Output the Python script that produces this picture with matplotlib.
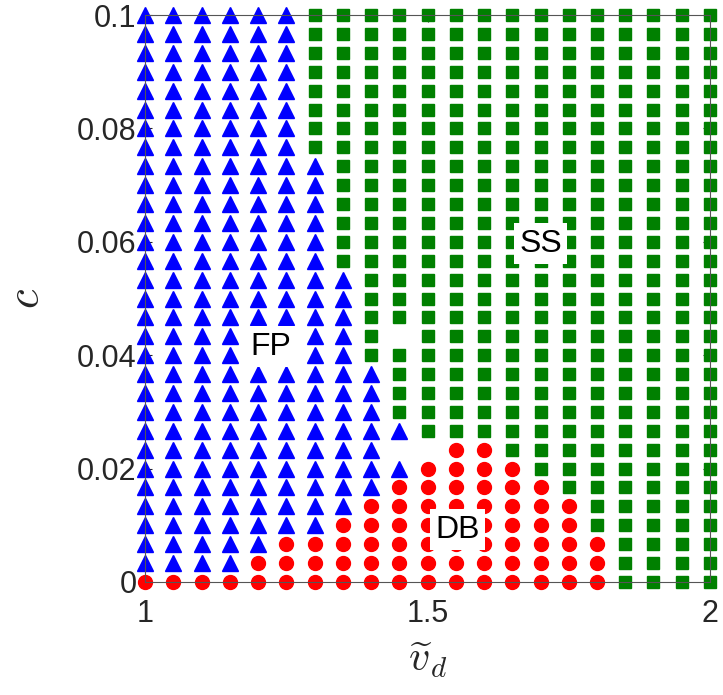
import numpy as np
import matplotlib
matplotlib.use("Agg")
import matplotlib.pyplot as plt

plt.rcParams['font.family'] = ['Liberation Sans', 'DejaVu Sans']
plt.rcParams['mathtext.fontset'] = 'cm'

#grid of the parameter scan
vd = np.linspace(1, 2, 21)
cvals = np.linspace(0, 0.1, 31)

#regime map, top row is c = 0.1, bottom row c = 0
#F = fixed point, S = steady state, D = DB, . = nothing
regimeMap = [
    "FFFFFFSSSSSSSSSSSSSSS",  # 30
    "FFFFFFSSSSSSSSSSSSSSS",
    "FFFFFFSSSSSSSSSSSSSSS",
    "FFFFFFSSSSSSSSSSSSSSS",
    "FFFFFFSSSSSSSSSSSSSSS",
    "FFFFFFSSSSSSSSSSSSSSS",
    "FFFFFFSSSSSSSSSSSSSSS",
    "FFFFFFSSSSSSSSSSSSSSS",  # 23
    "FFFFFFFSSSSSSSSSSSSSS",  # 22
    "FFFFFFFSSSSSSSSSSSSSS",
    "FFFFFFFSSSSSSSSSSSSSS",
    "FFFFFFFSSSSSSSSSSSSSS",
    "FFFFFFFSSSSSSSSSSSSSS",
    "FFFFFFFSSSSSSSSSSSSSS",  # 17
    "FFFFFFFFSSSSSSSSSSSSS",  # 16
    "FFFFFFFFSSSSSSSSSSSSS",
    "FFFFFFFFSSSSSSSSSSSSS",
    "FFFFFFFFS.SSSSSSSSSSS",  # 13
    "FFFFFFFFSSSSSSSSSSSSS",
    "FFFFFFFFFSSSSSSSSSSSS",
    "FFFFFFFFFSSSSSSSSSSSS",
    "FFFFFFFFFSSSSSSSSSSSS",  # 9
    "FFFFFFFFFFSSSSSSSSSSS",
    "FFFFFFFFF..DDSSSSSSSS",
    "FFFFFFFFFFDDDDSSSSSSS",
    "FFFFFFFFFDDDDDDSSSSSS",
    "FFFFFFFFDDDDDDDDSSSSS",
    "FFFFFFFDDDDDDDDDSSSSS",
    "FFFFFDDDDDDDDDDDDSSSS",
    "FFFFDDDDDDDDDDDDDSSSS",
    "DDDDDDDDDDDDDDDDDSSSS",  # 0
]

labels = ["FP", "SS", "DB"]
labelX = [1.222, 1.70, 1.553]
labelY = [0.0415, 0.0597, 0.0092]

grid = np.array([list(r) for r in regimeMap[::-1]])
V, C = np.meshgrid(vd, cvals)

fig = plt.figure(figsize=(7.23, 6.95), dpi=100)
ax = fig.add_axes([0.2006, 0.1626, 0.7814, 0.8158])

fp = grid == "F"
ss = grid == "S"
db = grid == "D"
ax.plot(V[fp], C[fp], "^", color=(0, 0, 1), markersize=11.5, clip_on=False, zorder=3)
ax.plot(V[ss], C[ss], "s", color=(0, 0.5, 0), markersize=8, clip_on=False, zorder=3)
ax.plot(V[db], C[db], "o", color=(1, 0, 0), markersize=10, clip_on=False, zorder=3)

for t, x, y in zip(labels, labelX, labelY):
    ax.text(x, y, t, fontsize=23, ha="center", va="center", zorder=5,
            bbox=dict(facecolor="white", edgecolor="none", pad=4))

ax.set_xlim(1, 2)
ax.set_ylim(0, 0.1)
ax.set_xticks([1, 1.5, 2])
ax.set_xticklabels(["1", "1.5", "2"])
ax.set_yticks([0, 0.02, 0.04, 0.06, 0.08, 0.1])
ax.set_yticklabels(["0", "0.02", "0.04", "0.06", "0.08", "0.1"])
ax.tick_params(direction="in", top=True, right=True, length=5, width=0.8,
               color="#262626", labelsize=22, labelcolor="#262626")
ax.tick_params(axis="x", pad=12)
ax.tick_params(axis="y", pad=6)
for s in ax.spines.values():
    s.set_color("#555555")
    s.set_linewidth(0.8)
    s.set_zorder(4)

ax.set_xlabel(r"$\widetilde{v}_d$", fontsize=30, color="#262626", labelpad=8)
ax.set_ylabel(r"$c$", fontsize=32, color="#262626", labelpad=22)

fig.savefig("out.png", dpi=100)
